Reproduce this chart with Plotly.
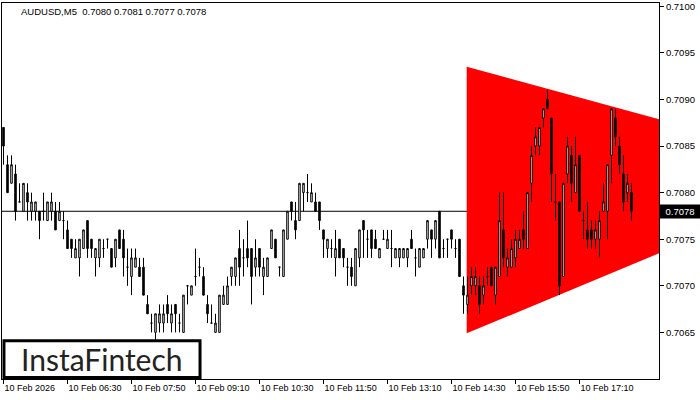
import plotly.graph_objects as go

# ---- data (AUDUSD M5, 10 Feb 2026, bars from 05:10) ----
opens = [0.7087,0.7083,0.7081,0.7082,0.7079,0.7078,0.7080,0.7078,0.7078,0.7078,
         0.7078,0.7077,0.7078,0.7078,0.7077,0.7077,0.7076,0.7075,0.7073,0.7073,
         0.7074,0.7077,0.7075,0.7073,0.7073,0.7074,0.7075,0.7074,0.7073,0.7076,
         0.7075,0.7072,0.7071,0.7072,0.7072,0.7072,0.7068,0.7066,0.7065,0.7066,
         0.7066,0.7068,0.7066,0.7068,0.7066,0.7065,0.7070,0.7069,0.7071,0.7072,
         0.7071,0.7068,0.7066,0.7065,0.7065,0.7068,0.7068,0.7071,0.7071,0.7074,
         0.7073,0.7074,0.7074,0.7072,0.7074,0.7071,0.7071,0.7074,0.7075,0.7072,
         0.7071,0.7075,0.7079,0.7077,0.7077,0.7080,0.7080,0.7079,0.7079,0.7079,
         0.7076,0.7074,0.7074,0.7073,0.7075,0.7074,0.7072,0.7072,0.7070,0.7073,
         0.7077,0.7075,0.7076,0.7075,0.7073,0.7075,0.7074,0.7074,0.7073,0.7073,
         0.7073,0.7073,0.7075,0.7073,0.7072,0.7073,0.7075,0.7076,0.7075,0.7078,
         0.7074,0.7075,0.7076,0.7074,0.7075,0.7070,0.7068,0.7070,0.7070,0.7070,
         0.7069,0.7071,0.7072,0.7069,0.7071,0.7076,0.7072,0.7072,0.7073,0.7074,
         0.7076,0.7074,0.7081,0.7085,0.7085,0.7088,0.7090,0.7088,0.7079,0.7079,
         0.7071,0.7082,0.7084,0.7080,0.7084,0.7077,0.7076,0.7076,0.7075,0.7075,
         0.7078,0.7078,0.7084,0.7088,0.7085,0.7082,0.7080,0.7080]
highs = [0.7087,0.7084,0.7084,0.7083,0.7081,0.7081,0.7081,0.7080,0.7079,0.7078,
         0.7080,0.7079,0.7080,0.7079,0.7079,0.7078,0.7077,0.7075,0.7075,0.7075,
         0.7076,0.7077,0.7075,0.7074,0.7075,0.7075,0.7075,0.7074,0.7075,0.7076,
         0.7076,0.7074,0.7074,0.7074,0.7073,0.7073,0.7069,0.7067,0.7067,0.7068,
         0.7068,0.7069,0.7068,0.7068,0.7067,0.7069,0.7070,0.7070,0.7074,0.7073,
         0.7072,0.7069,0.7068,0.7067,0.7069,0.7070,0.7071,0.7072,0.7073,0.7076,
         0.7075,0.7077,0.7074,0.7075,0.7074,0.7073,0.7073,0.7076,0.7075,0.7072,
         0.7076,0.7078,0.7079,0.7079,0.7081,0.7081,0.7082,0.7081,0.7080,0.7079,
         0.7076,0.7075,0.7075,0.7076,0.7075,0.7074,0.7073,0.7073,0.7074,0.7076,
         0.7077,0.7076,0.7076,0.7076,0.7074,0.7076,0.7076,0.7076,0.7074,0.7074,
         0.7074,0.7074,0.7076,0.7074,0.7074,0.7074,0.7077,0.7076,0.7077,0.7078,
         0.7075,0.7075,0.7076,0.7075,0.7075,0.7071,0.7071,0.7072,0.7072,0.7071,
         0.7071,0.7072,0.7072,0.7072,0.7080,0.7080,0.7074,0.7075,0.7076,0.7076,
         0.7078,0.7080,0.7085,0.7087,0.7087,0.7089,0.7091,0.7088,0.7082,0.7079,
         0.7081,0.7086,0.7085,0.7086,0.7084,0.7078,0.7079,0.7077,0.7077,0.7078,
         0.7081,0.7083,0.7089,0.7089,0.7086,0.7084,0.7082,0.7081]
lows  = [0.7083,0.7080,0.7081,0.7077,0.7079,0.7078,0.7077,0.7077,0.7077,0.7075,
         0.7077,0.7077,0.7077,0.7076,0.7077,0.7075,0.7074,0.7073,0.7073,0.7071,
         0.7074,0.7073,0.7073,0.7071,0.7072,0.7073,0.7074,0.7072,0.7072,0.7074,
         0.7071,0.7070,0.7069,0.7072,0.7071,0.7069,0.7067,0.7065,0.7064,0.7065,
         0.7065,0.7066,0.7065,0.7065,0.7065,0.7065,0.7068,0.7069,0.7070,0.7071,
         0.7069,0.7066,0.7066,0.7065,0.7065,0.7068,0.7068,0.7070,0.7070,0.7070,
         0.7071,0.7072,0.7068,0.7071,0.7071,0.7069,0.7071,0.7074,0.7073,0.7071,
         0.7071,0.7075,0.7077,0.7075,0.7077,0.7078,0.7079,0.7079,0.7078,0.7076,
         0.7073,0.7073,0.7073,0.7071,0.7073,0.7072,0.7070,0.7070,0.7070,0.7072,
         0.7073,0.7073,0.7073,0.7074,0.7073,0.7075,0.7074,0.7072,0.7073,0.7072,
         0.7073,0.7072,0.7074,0.7071,0.7072,0.7073,0.7074,0.7073,0.7074,0.7073,
         0.7073,0.7073,0.7074,0.7073,0.7071,0.7067,0.7067,0.7069,0.7069,0.7067,
         0.7068,0.7070,0.7070,0.7068,0.7071,0.7072,0.7071,0.7072,0.7072,0.7074,
         0.7074,0.7074,0.7079,0.7084,0.7084,0.7087,0.7089,0.7079,0.7077,0.7069,
         0.7071,0.7081,0.7079,0.7080,0.7078,0.7075,0.7074,0.7074,0.7074,0.7073,
         0.7078,0.7075,0.7081,0.7085,0.7082,0.7078,0.7079,0.7077]
closes = [0.7085,0.7080,0.7083,0.7078,0.7079,0.7081,0.7079,0.7079,0.7079,0.7077,
          0.7078,0.7079,0.7079,0.7076,0.7078,0.7077,0.7074,0.7074,0.7074,0.7075,
          0.7076,0.7074,0.7074,0.7074,0.7075,0.7074,0.7075,0.7072,0.7075,0.7074,
          0.7073,0.7072,0.7073,0.7073,0.7071,0.7069,0.7067,0.7066,0.7067,0.7067,
          0.7067,0.7067,0.7067,0.7067,0.7066,0.7069,0.7070,0.7070,0.7071,0.7072,
          0.7069,0.7067,0.7066,0.7066,0.7069,0.7069,0.7070,0.7072,0.7073,0.7072,
          0.7073,0.7073,0.7071,0.7073,0.7072,0.7072,0.7073,0.7076,0.7073,0.7072,
          0.7076,0.7078,0.7078,0.7076,0.7081,0.7081,0.7080,0.7080,0.7078,0.7077,
          0.7075,0.7075,0.7074,0.7074,0.7073,0.7073,0.7072,0.7071,0.7074,0.7076,
          0.7076,0.7075,0.7074,0.7074,0.7074,0.7075,0.7075,0.7074,0.7074,0.7074,
          0.7074,0.7074,0.7074,0.7073,0.7074,0.7074,0.7077,0.7075,0.7077,0.7073,
          0.7074,0.7075,0.7075,0.7074,0.7071,0.7069,0.7069,0.7071,0.7071,0.7068,
          0.7070,0.7071,0.7070,0.7072,0.7077,0.7073,0.7073,0.7074,0.7075,0.7075,
          0.7075,0.7080,0.7084,0.7086,0.7087,0.7089,0.7089,0.7082,0.7079,0.7070,
          0.7081,0.7085,0.7081,0.7083,0.7078,0.7077,0.7075,0.7075,0.7076,0.7077,
          0.7079,0.7083,0.7089,0.7086,0.7083,0.7079,0.7081,0.7078]
bars = list(range(len(closes)))

tick_bars = [0, 16, 32, 48, 64, 80, 96, 112, 128, 144]
tick_labels = ["10 Feb 2026", "10 Feb 06:30", "10 Feb 07:50", "10 Feb 09:10",
               "10 Feb 10:30", "10 Feb 11:50", "10 Feb 13:10", "10 Feb 14:30",
               "10 Feb 15:50", "10 Feb 17:10"]
price_ticks = [0.7065, 0.7070, 0.7075, 0.7080, 0.7085, 0.7090, 0.7095, 0.7100]

# symmetric triangle pattern (left top, apex, left bottom)
pattern_x = [115.8, 212.6, 115.8]
pattern_y = [0.70935, 0.70822, 0.70649]

symbol = "AUDUSD,M5"
FONT = "Liberation Sans, Arial, sans-serif"

fig = go.Figure()
fig.add_trace(go.Candlestick(
    x=bars, open=opens, high=highs, low=lows, close=closes,
    increasing=dict(line=dict(color="black", width=1), fillcolor="white"),
    decreasing=dict(line=dict(color="black", width=1), fillcolor="black"),
    whiskerwidth=0, hoverinfo="skip", showlegend=False,
))

path = "M {},{} L {},{} L {},{} Z".format(pattern_x[0], pattern_y[0],
                                           pattern_x[1], pattern_y[1],
                                           pattern_x[2], pattern_y[2])
shapes = [
    dict(type="path", path=path, xref="x", yref="y", fillcolor="#FF0000",
         line=dict(width=0), layer="below"),
    dict(type="line", xref="paper", yref="y", x0=0, x1=1,
         y0=closes[-1], y1=closes[-1], line=dict(color="black", width=1),
         layer="below"),
    dict(type="rect", xref="paper", yref="paper", x0=0.003, x1=0.3014,
         y0=0.004, y1=0.1019, fillcolor="white",
         line=dict(color="black", width=3), layer="above"),
]

annotations = [
    dict(text="{}  {:.4f} {:.4f} {:.4f} {:.4f}".format(symbol, opens[-1], highs[-1], lows[-1], closes[-1]),
         xref="paper", yref="paper", x=0.026, y=0.977, xanchor="left", yanchor="middle",
         showarrow=False, font=dict(family=FONT, size=9.5, color="black")),
    dict(text="{:.4f}".format(closes[-1]), xref="paper", yref="y", x=1, y=closes[-1],
         xanchor="left", yanchor="middle", showarrow=False, bgcolor="black",
         font=dict(family=FONT, size=9.5, color="white"), width=38, height=11,
         align="center", borderpad=1, xshift=0),
    dict(text="InstaFintech", xref="paper", yref="paper", x=0.152, y=0.052,
         xanchor="center", yanchor="middle", showarrow=False,
         font=dict(family="Lato, sans-serif", size=30, color="#222222")),
]

fig.update_layout(
    width=700, height=400,
    margin=dict(l=2, r=41, t=1, b=21),
    paper_bgcolor="white", plot_bgcolor="white",
    boxgap=0.45,
    shapes=shapes, annotations=annotations,
    showlegend=False,
    xaxis=dict(range=[-0.375, 163.875], rangeslider=dict(visible=False),
               tickvals=tick_bars, ticktext=tick_labels,
               ticks="outside", ticklen=4, tickcolor="black", tickwidth=1,
               ticklabelposition="outside right",
               showgrid=False, zeroline=False, showline=True, linecolor="black",
               linewidth=1, mirror=True,
               tickfont=dict(family=FONT, size=9, color="black")),
    yaxis=dict(range=[0.7060, 0.710035], side="right",
               tickvals=price_ticks, tickformat=".4f",
               ticks="outside", ticklen=4, tickcolor="black", tickwidth=1,
               ticklabeloverflow="allow",
               showgrid=False, zeroline=False, showline=True, linecolor="black",
               linewidth=1, mirror=True,
               tickfont=dict(family=FONT, size=9.5, color="black")),
)

fig.write_html("out.html", config={"displayModeBar": False},
               post_script="document.body.style.margin='0';document.body.style.padding='0';")
